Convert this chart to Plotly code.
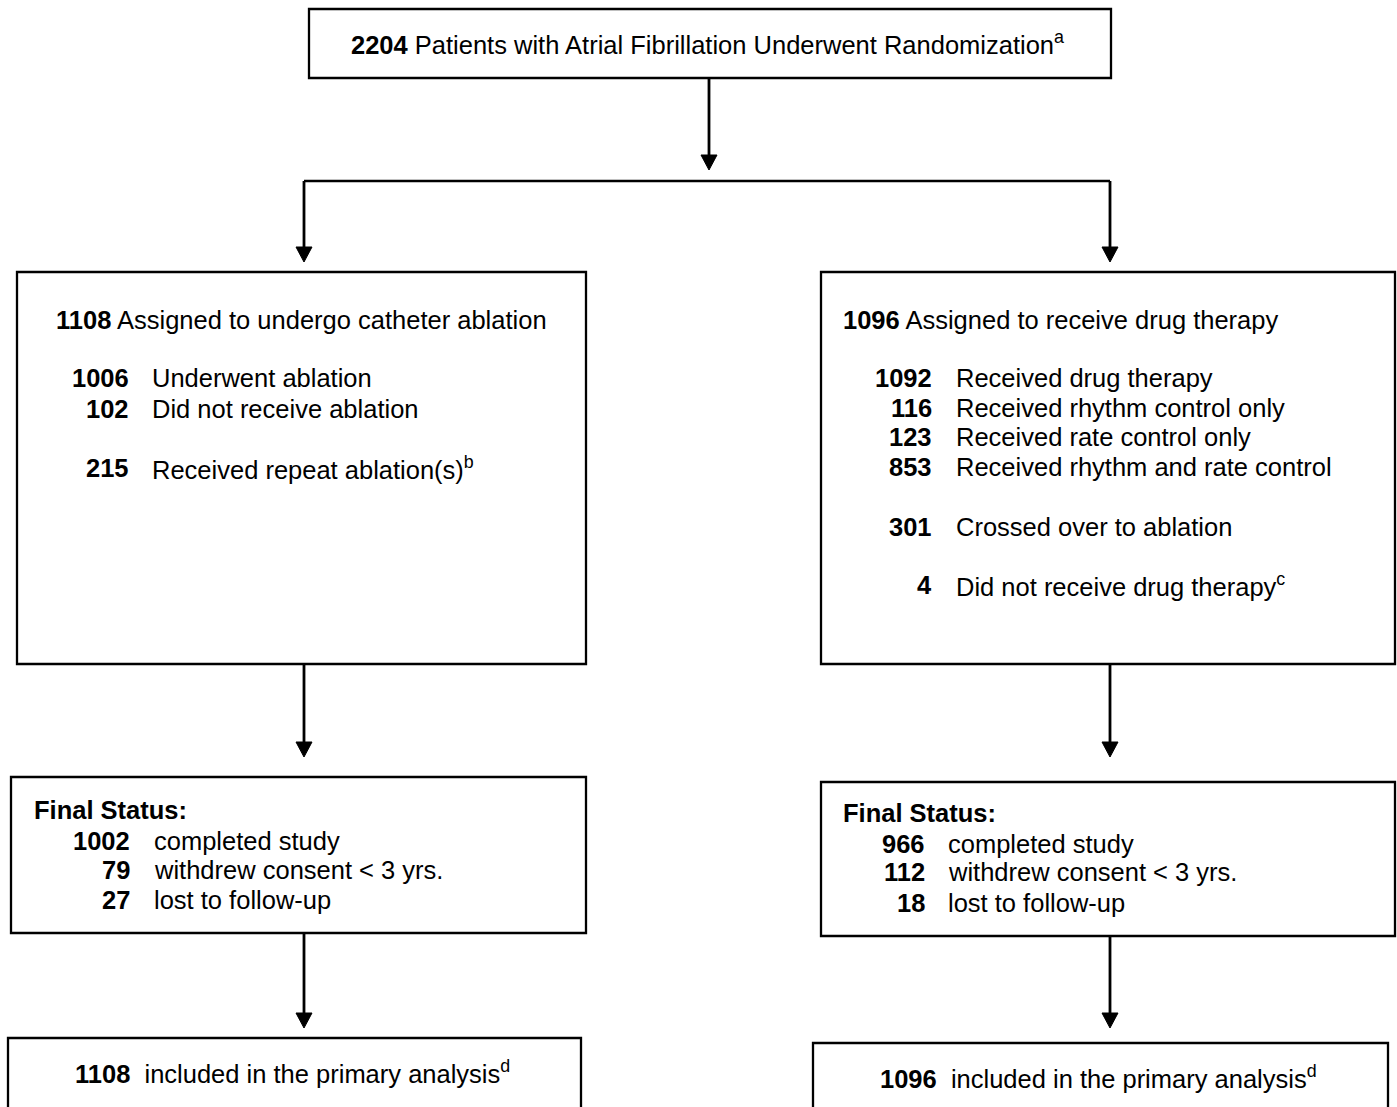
import plotly.graph_objects as go

# ---------------- data ----------------
top_count = 2204
top_label = "Patients with Atrial Fibrillation Underwent Randomization"
top_note = "a"

arm_counts = [1108, 1096]
arm_heads = ["Assigned to undergo catheter ablation", "Assigned to receive drug therapy"]

abl_counts = [1006, 102, 215]
abl_labels = ["Underwent ablation", "Did not receive ablation", "Received repeat ablation(s)"]
abl_notes = ["", "", "b"]

drug_counts = [1092, 116, 123, 853, 301, 4]
drug_labels = ["Received drug therapy", "Received rhythm control only", "Received rate control only",
               "Received rhythm and rate control", "Crossed over to ablation", "Did not receive drug therapy"]
drug_notes = ["", "", "", "", "", "c"]

final_labels = ["completed study", "withdrew consent < 3 yrs.", "lost to follow-up"]
abl_final_counts = [1002, 79, 27]
drug_final_counts = [966, 112, 18]

analysis_counts = [1108, 1096]
analysis_label = "included in the primary analysis"
analysis_note = "d"

# ---------------- layout helpers ----------------
W, H = 1397, 1107
FONT = "Liberation Sans, Arial, Helvetica, sans-serif"
FS = 25.5
LW = 2.3
AW = 2.8
HEAD_W, HEAD_L = 8, 15

fig = go.Figure()
shapes = []
annotations = []


def box(x0, y0, x1, y1):
    shapes.append(dict(type="rect", x0=x0, y0=y0, x1=x1, y1=y1, xref="x", yref="y",
                       line=dict(color="black", width=LW), fillcolor="rgba(0,0,0,0)"))


def line(x0, y0, x1, y1, w=LW):
    shapes.append(dict(type="line", x0=x0, y0=y0, x1=x1, y1=y1, xref="x", yref="y",
                       line=dict(color="black", width=w)))


def arrow(x, y0, y1):
    line(x, y0, x, y1 - HEAD_L + 1, w=AW)
    shapes.append(dict(type="path", xref="x", yref="y",
                       path=f"M {x - HEAD_W},{y1 - HEAD_L} L {x + HEAD_W},{y1 - HEAD_L} L {x},{y1} Z",
                       fillcolor="black", line=dict(color="black", width=1)))


def text(x, y, t, anchor="left", size=FS):
    annotations.append(dict(x=x, y=y, xref="x", yref="y", text=t, showarrow=False,
                            xanchor=anchor, yanchor="middle",
                            font=dict(family=FONT, size=size, color="black")))


def sup(n):
    return f"<sup>{n}</sup>" if n else ""


# top box
box(309, 9, 1111, 78)
text(707, 43, f"<b>{top_count}</b> {top_label}{sup(top_note)}", anchor="center")
arrow(709, 78, 170)
line(304, 181, 1110, 181)
arrow(304, 181, 262)
arrow(1110, 181, 262)

# arm boxes
box(17, 272, 586, 664)
box(821, 272, 1395, 664)
text(54, 320, f"<b>{arm_counts[0]}</b> {arm_heads[0]}")
text(841, 320, f"<b>{arm_counts[1]}</b> {arm_heads[1]}")

abl_rows = [378, 409, 468]
for yy, c, lab, nt in zip(abl_rows, abl_counts, abl_labels, abl_notes):
    text(131, yy, f"<b>{c}</b>", anchor="right")
    text(150, yy, f"{lab}{sup(nt)}")

drug_rows = [378, 408, 437, 467, 527, 585]
for yy, c, lab, nt in zip(drug_rows, drug_counts, drug_labels, drug_notes):
    text(934, yy, f"<b>{c}</b>", anchor="right")
    text(954, yy, f"{lab}{sup(nt)}")

arrow(304, 664, 757)
arrow(1110, 664, 757)

# final status boxes
box(11, 777, 586, 933)
box(821, 782, 1395, 936)
text(32, 810, "<b>Final Status:</b>")
text(841, 813, "<b>Final Status:</b>")
for yy, c, lab in zip([841, 870, 900], abl_final_counts, final_labels):
    text(132, yy, f"<b>{c}</b>", anchor="right")
    text(152, yy, lab)
for yy, c, lab in zip([844, 872, 903], drug_final_counts, final_labels):
    text(927, yy, f"<b>{c}</b>", anchor="right")
    text(946, yy, lab)

arrow(304, 933, 1028)
arrow(1110, 936, 1028)

# analysis boxes
box(8, 1038, 581, 1130)
box(813, 1043, 1388, 1130)
text(292, 1072, f"<b>{analysis_counts[0]}</b>&nbsp;&nbsp;{analysis_label}{sup(analysis_note)}", anchor="center")
text(1098, 1077, f"<b>{analysis_counts[1]}</b>&nbsp;&nbsp;{analysis_label}{sup(analysis_note)}", anchor="center")

fig.update_layout(
    width=W, height=H,
    margin=dict(l=0, r=0, t=0, b=0),
    paper_bgcolor="white", plot_bgcolor="white",
    xaxis=dict(range=[0, W], visible=False, fixedrange=True),
    yaxis=dict(range=[H, 0], visible=False, fixedrange=True),
    shapes=shapes, annotations=annotations,
    showlegend=False,
)

fig.write_html("out.html",
               config={"displayModeBar": False},
               post_script="document.body.style.margin='0';document.body.style.overflow='hidden';")
